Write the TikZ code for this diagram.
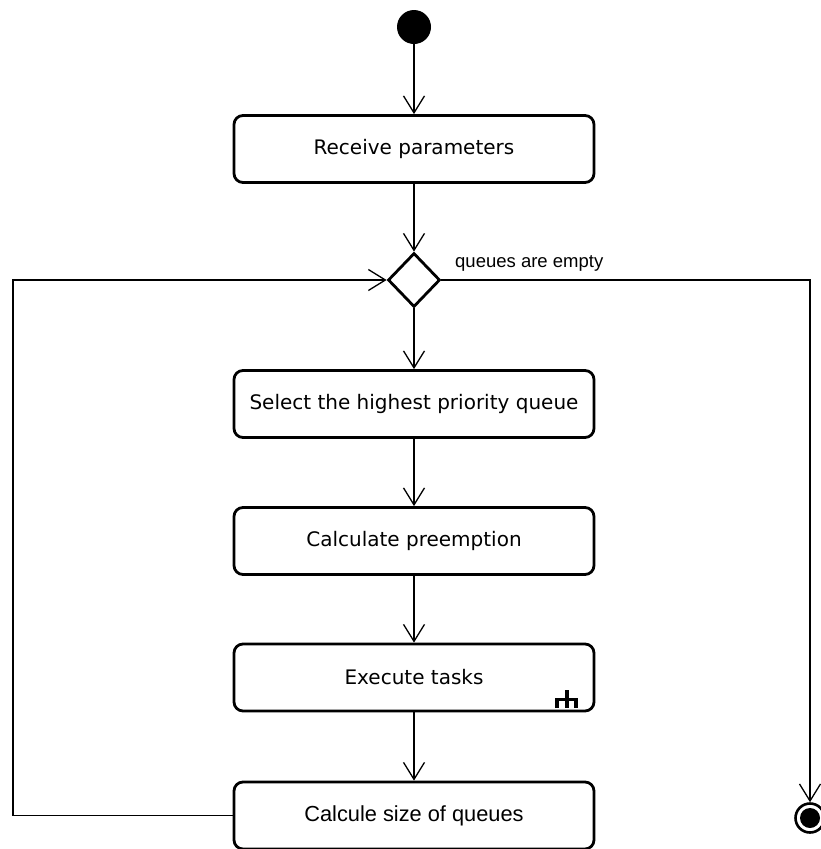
\documentclass[tikz,border=0pt]{standalone}
\usepackage{fontspec}
\setmainfont{DejaVu Sans}
\newfontfamily\arialfont{Liberation Sans}
\usetikzlibrary{shapes.geometric,arrows.meta}
\begin{document}
\begin{tikzpicture}[x=1pt,y=-1pt,
  action/.style={draw, rectangle, rounded corners=9pt, line width=2.8pt,
    minimum width=360pt, minimum height=67pt, inner sep=0pt, font=\fontsize{20}{24}\selectfont},
  decision/.style={draw, diamond, line width=2.8pt, minimum width=52pt,
    minimum height=54pt, inner sep=0pt},
  flow/.style={line width=1.3pt, -{Straight Barb[length=17pt,width=21pt,line width=1.3pt]}},
  rake/.style={line width=3.2pt}]
  \useasboundingbox (0,0) rectangle (821,849);

  % initial and final nodes
  \node[circle, fill=black, minimum size=34pt, inner sep=0pt] (start) at (414,27) {};
  \node[circle, draw, line width=2.6pt, minimum size=29pt, inner sep=0pt] (end) at (810,818) {};
  \fill (end.center) circle (10pt);

  % actions
  \node[action] (recv) at (414,149) {Receive parameters};
  \node[decision] (dia) at (414,280) {};
  \node[action] (sel) at (414,404) {Select the highest priority queue};
  \node[action] (calc) at (414,541) {Calculate preemption};
  \node[action] (exec) at (414,677.5) {Execute tasks};
  \node[action, font=\arialfont\fontsize{21.8}{26}\selectfont] (size) at (414,815.5) {Calcule size of queues};

  % call-behaviour rake inside "Execute tasks"
  \draw[rake] (567,690) -- (567,708)
    (557,708) -- (557,699.5) -- (576,699.5) -- (576,708);

  % guard label
  \node[anchor=west, inner sep=0pt, font=\arialfont\fontsize{18.5}{22}\selectfont] (guard) at (455,263) {queues are empty};

  % main flow
  \draw[flow] (start) -- (recv);
  \draw[flow] (recv) -- (dia);
  \draw[flow] (dia) -- (sel);
  \draw[flow] (sel) -- (calc);
  \draw[flow] (calc) -- (exec);
  \draw[flow] (exec) -- (size);

  % loop back to the decision
  \coordinate (loopL) at (13,280);
  \draw[flow] (size.west) -| (loopL) -- (dia.west);

  % exit when all queues are empty
  \coordinate (loopR) at (810,280);
  \draw[flow] (dia.east) -- (loopR) -- (end.north);
\end{tikzpicture}
\end{document}
